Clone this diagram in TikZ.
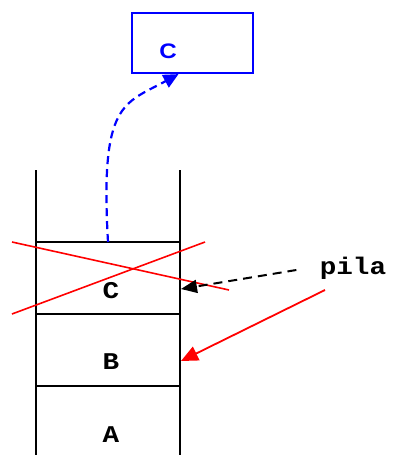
\documentclass[tikz,border=0pt]{standalone}
\usepackage{fontspec}
\usetikzlibrary{arrows.meta}
\newfontfamily\stackfont[FakeStretch=1.15]{Liberation Mono}
\newfontfamily\boxfont[FakeStretch=1.15]{Liberation Sans}
\definecolor{popblue}{HTML}{0000FF}
\definecolor{crossred}{HTML}{FF0000}

\begin{document}
\begin{tikzpicture}[x=1pt, y=-1pt]
  \useasboundingbox (0,0) rectangle (394,455);

  % Stack walls
  \draw[line width=1.6pt] (36,170) -- (36,455);
  \draw[line width=1.6pt] (180,170) -- (180,455);

  % Cell separators and contents
  \foreach \y in {242, 314, 386} {
    \draw[line width=1.6pt] (36,\y) -- (180,\y);
  }
  \foreach \name/\y in {C/291, B/362, A/435} {
    \node[font=\stackfont\bfseries\fontsize{24}{24}\selectfont] (cell\name) at (111,\y) {\name};
  }

  % Popped element crossed out
  \draw[crossred, line width=1.6pt] (12,242) -- (229,290);
  \draw[crossred, line width=1.6pt] (12,314) -- (205,242);

  % Popped element box
  \node[draw=popblue, line width=2.2pt, minimum width=121pt, minimum height=60pt, inner sep=0pt] (popped) at (192.5,43) {};
  \node[text=popblue, font=\boxfont\bfseries\fontsize{21}{21}\selectfont] (poppedC) at (168,51) {C};

  % Pointer label
  \node[font=\stackfont\bfseries\fontsize{24}{24}\selectfont] (pila) at (353,268) {pila};

  \coordinate (stacktop) at (108,242);
  \coordinate (oldtop) at (181,289);
  \coordinate (newtop) at (181,361);
  \coordinate (pilafoot) at (325,290);

  % Connectors
  \draw[popblue, line width=2.2pt, dash pattern=on 8pt off 5pt, -{Triangle[length=15pt,width=14pt]}]
    (stacktop) .. controls +(-8,-140) and +(-55,30) .. ([xshift=-14pt]popped.south);
  \draw[line width=2pt, dash pattern=on 9pt off 6pt, -{Triangle[length=16pt,width=13pt]}]
    ([xshift=-20pt,yshift=-2pt]pila.west) -- (oldtop);
  \draw[crossred, line width=1.8pt, -{Triangle[length=17pt,width=15pt]}] (pilafoot) -- (newtop);

\end{tikzpicture}
\end{document}
